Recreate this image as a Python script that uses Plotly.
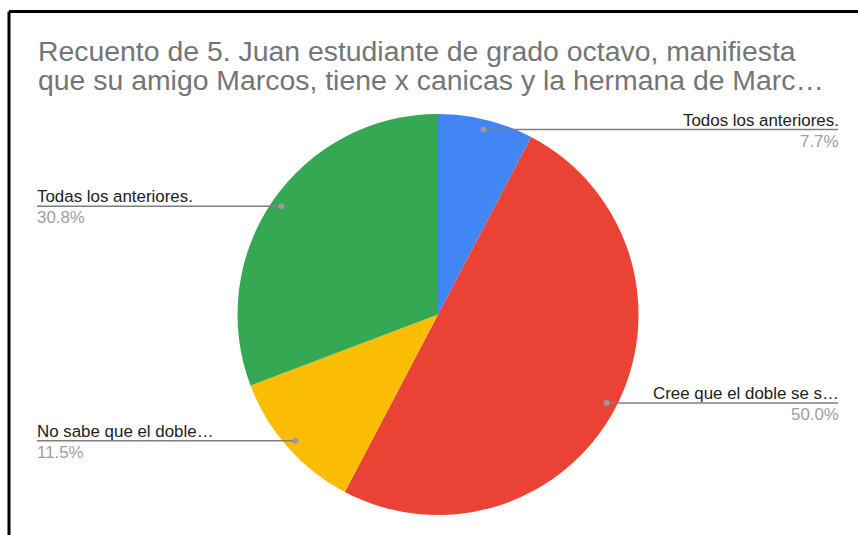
import math
import plotly.graph_objects as go

W, H = 858, 535

title_lines = [
    "Recuento de 5. Juan estudiante de grado octavo, manifiesta",
    "que su amigo Marcos, tiene x canicas y la hermana de Marc…",
]
labels = [
    "Todos los anteriores.",
    "Cree que el doble se s…",
    "No sabe que el doble…",
    "Todas los anteriores.",
]
counts = [2, 13, 3, 8]
colors = ["#4285F4", "#EA4335", "#FBBC04", "#34A853"]
label_side = ["right", "right", "left", "left"]

# pie geometry (pixels)
CX, CY, R = 438.0, 314.5, 200.5

fig = go.Figure()
fig.add_trace(go.Pie(
    labels=labels, values=counts, sort=False, direction="clockwise", rotation=0,
    marker=dict(colors=colors, line=dict(width=0)),
    textinfo="none", hoverinfo="label+percent", showlegend=False,
    domain=dict(x=[(CX - R) / W, (CX + R) / W], y=[1 - (CY + R) / H, 1 - (CY - R) / H]),
))

shapes = []
annotations = []

# border frame
shapes.append(dict(type="line", xref="x", yref="y", x0=9, y0=11.5, x1=W, y1=11.5,
                   line=dict(color="#000000", width=3)))
shapes.append(dict(type="line", xref="x", yref="y", x0=9, y0=11.5, x1=9, y1=H,
                   line=dict(color="#000000", width=3)))

# title
for i, t in enumerate(title_lines):
    annotations.append(dict(text=t, xref="x", yref="y", x=36, y=51 + 28.5 * i,
                            xanchor="left", yanchor="middle", showarrow=False,
                            font=dict(family="Liberation Sans, Arial", size=28.4, color="#757575")))

total = sum(counts)
cum = 0.0
for lab, c, side in zip(labels, counts, label_side):
    frac = c / total
    mid = (cum + frac / 2) * 2 * math.pi
    cum += frac
    dx = CX + 0.95 * R * math.sin(mid)
    dy = CY - 0.95 * R * math.cos(mid)
    xend = 838 if side == "right" else 37
    shapes.append(dict(type="line", xref="x", yref="y", x0=dx, y0=dy, x1=xend, y1=dy,
                       line=dict(color="#7f7f7f", width=1.5)))
    shapes.append(dict(type="circle", xref="x", yref="y", x0=dx - 3, y0=dy - 3, x1=dx + 3, y1=dy + 3,
                       fillcolor="#9a9a9a", line=dict(width=0)))
    anchor = "right" if side == "right" else "left"
    ax = xend + 3 if side == "right" else xend - 2
    annotations.append(dict(text=lab, xref="x", yref="y", x=ax, y=dy - 9.5,
                            xanchor=anchor, yanchor="middle", showarrow=False,
                            font=dict(family="Liberation Sans, Arial", size=16.9, color="#222222")))
    annotations.append(dict(text=f"{frac * 100:.1f}%", xref="x", yref="y", x=ax, y=dy + 11.5,
                            xanchor=anchor, yanchor="middle", showarrow=False,
                            font=dict(family="Liberation Sans, Arial", size=16.9, color="#9e9e9e")))

fig.update_layout(
    width=W, height=H, margin=dict(l=0, r=0, t=0, b=0),
    paper_bgcolor="#ffffff", plot_bgcolor="rgba(0,0,0,0)",
    xaxis=dict(range=[0, W], visible=False, fixedrange=True),
    yaxis=dict(range=[H, 0], visible=False, fixedrange=True),
    shapes=shapes, annotations=annotations,
)
fig.write_html("out.html", config={"displayModeBar": False},
               post_script="document.body.style.margin='0px';document.body.style.overflow='hidden';")
